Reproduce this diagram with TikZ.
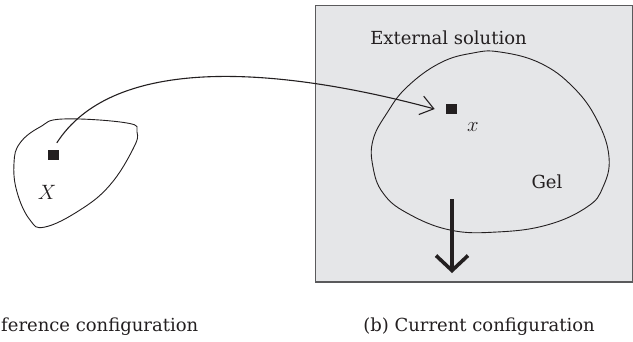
\documentclass[tikz,border=0pt]{standalone}
\usepackage{fontspec}
\setmainfont{DejaVu Serif}
\usetikzlibrary{arrows.meta}
\definecolor{ink}{HTML}{231F20}
\definecolor{gelbg}{HTML}{E5E6E8}
\definecolor{framegray}{HTML}{5A5A5C}
\begin{document}
\begin{tikzpicture}[x=1pt,y=-1pt,
  outline/.style={draw=ink, line width=0.9pt},
  sq/.style={fill=ink, draw=none, minimum size=10.8pt, inner sep=0pt},
  lbl/.style={font=\fontsize{18}{22}\selectfont, inner sep=0pt, text=ink},
  mathlbl/.style={font=\fontsize{20}{24}\selectfont, inner sep=0pt, text=ink},
  conn/.style={draw=ink, line width=1.1pt, -{Straight Barb[length=13pt,width=19pt]}},
  bigarrow/.style={draw=ink, line width=4pt, -{Straight Barb[length=15pt,width=32pt,line width=3.6pt]}}]
\useasboundingbox (0,0) rectangle (633,341);
% external solution box
\fill[gelbg] (315.5,5.5) rectangle (632.5,282);
\draw[framegray, line width=1.6pt] (315.5,5.5) rectangle (632.5,282);
% reference body
\draw[outline] plot[smooth cycle, tension=0.7] coordinates {
  (63,119) (127,123) (137,132) (133,149) (110,185) (80,210) (45,227)
  (30,220) (17,192) (14,163) (20,143) (40,127)};
% gel
\draw[outline] plot[smooth cycle, tension=0.7] coordinates {
  (500,52) (540,63) (573,87) (597,120) (609,157) (603,187) (587,207)
  (547,225) (497,232) (450,230) (407,213) (383,193) (373,167) (373,140)
  (387,113) (407,87) (440,63) (473,53)};
% points
\node[sq] (sqX) at (53.8,155) {};
\node[sq] (sqx) at (451.3,109) {};
\node[mathlbl, anchor=base] (labX) at (47,199) {$X$};
\node[mathlbl, anchor=base] (labx) at (473,131) {$x$};
% labels
\node[lbl, anchor=base] (ext) at (448.5,44) {External solution};
\node[lbl, anchor=base] (gel) at (547,188) {Gel};
\node[lbl, anchor=base west] (capa) at (1,331) {ference configuration};
\node[lbl, anchor=base east] (capb) at (595,331) {(b) Current configuration};
% mapping connector
\coordinate (c0) at ([shift={(3,-6.5)}]sqX.north);
\coordinate (c1) at ([xshift=-11pt]sqx.west);
\draw[conn] (c0) .. controls (110,60) and (260,62) .. (c1);
% big arrow
\coordinate (a0) at (452,199);
\coordinate (a1) at (452,273);
\draw[bigarrow] (a0) -- (a1);
\end{tikzpicture}
\end{document}
